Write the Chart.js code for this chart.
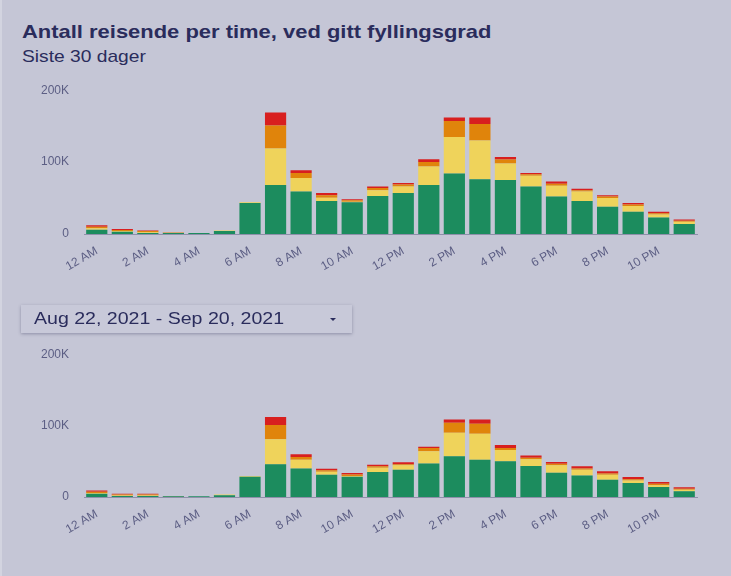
<!DOCTYPE html>
<html>
<head>
<meta charset="utf-8">
<script src="https://cdn.jsdelivr.net/npm/chart.js@4.4.0/dist/chart.umd.min.js"></script>
<style>
  html, body { margin:0; padding:0; }
  body { width:731px; height:576px; background:#c5c6d6; position:relative; overflow:hidden;
         font-family:"Liberation Sans", Arial, sans-serif; border-left:2px solid #d3d4e0; box-sizing:border-box; }
  .title { position:absolute; left:20px; top:21px; font-size:19px; font-weight:bold; color:#2a2c5c;
           transform:scaleX(1.155); transform-origin:0 0; white-space:nowrap; }
  .sub { position:absolute; left:20px; top:47px; font-size:17px; color:#2a2c5c;
         transform:scaleX(1.13); transform-origin:0 0; white-space:nowrap; }
  .box { position:absolute; left:0; width:731px; }
  #wrap1 { top:68px; height:210px; }
  #wrap2 { top:332px; height:209px; }
  .dd { position:absolute; left:19px; top:305px; width:331px; height:28px; background:#c8c9d9;
        box-shadow:0 1px 3px rgba(40,40,80,0.35); z-index:2; }
  .dd span { position:absolute; left:13px; top:4px; font-size:17px; color:#2a2c5c;
             transform:scaleX(1.15); transform-origin:0 0; white-space:nowrap; }
  .dd i { position:absolute; right:16px; top:13px; width:0; height:0; border-left:3px solid transparent;
          border-right:3px solid transparent; border-top:3px solid #2a2c5c; }
</style>
</head>
<body>
<div class="title">Antall reisende per time, ved gitt fyllingsgrad</div>
<div class="sub">Siste 30 dager</div>
<div class="box" id="wrap1"><canvas id="c1"></canvas></div>
<div class="dd"><span>Aug 22, 2021 - Sep 20, 2021</span><i></i></div>
<div class="box" id="wrap2"><canvas id="c2"></canvas></div>
<script>
const hours = ['12 AM','1 AM','2 AM','3 AM','4 AM','5 AM','6 AM','7 AM','8 AM','9 AM','10 AM','11 AM',
               '12 PM','1 PM','2 PM','3 PM','4 PM','5 PM','6 PM','7 PM','8 PM','9 PM','10 PM','11 PM'];
const yTicks = [0, 100, 200]; // thousands

// Siste 30 dager (thousands of travellers)
const green1  = [6, 3, 1.5, 1.5, 1.5, 4, 43, 68, 59, 46, 44, 53, 57, 68, 84, 76, 75, 66, 52, 46, 38, 31, 23, 14];
const yellow1 = [2, 1, 1, 0.3, 0, 1, 1, 51, 19, 4.5, 1, 8, 9, 26, 51, 54, 23, 15, 15, 13, 12, 8, 4, 3];
const orange1 = [2, 1.5, 1.5, 0.3, 0, 0, 0, 32, 7, 3.5, 2, 3, 3, 6, 22, 23, 5.5, 2, 3, 2, 2, 2, 2, 1.5];
const red1    = [2, 1.5, 1, 0.2, 0, 0, 0, 18, 3.5, 3, 1.5, 2, 2, 4, 5, 9, 3.5, 2, 3, 2, 2, 2, 2, 1.5];

// Aug 22, 2021 - Sep 20, 2021
const green2  = [4.5, 1.5, 1.5, 1, 1, 2.5, 28.5, 46, 40, 31, 28.5, 35, 38, 47, 57, 52, 50, 43.5, 34, 30, 24, 19.5, 14, 8];
const yellow2 = [1, 0.5, 0.5, 0.2, 0, 1, 1, 35, 12, 4.5, 1, 6, 6.5, 17, 33, 36.5, 16, 9.5, 10.5, 8, 7, 3.5, 2.5, 2];
const orange2 = [2, 1.5, 1.5, 0.3, 0, 0, 0, 20, 4, 2, 2, 2, 1.5, 4.5, 14, 14, 2.7, 2, 2, 2, 2, 2, 2, 1.5];
const red2    = [1.5, 1, 1, 0, 0, 0, 0, 11, 4, 2, 2, 2, 2.5, 2, 4.5, 6, 4, 3, 2.5, 3, 3, 3, 2.5, 2];

const colors = { green:'#1c8c5e', yellow:'#efd35b', orange:'#e0840b', red:'#d81f1f' };
const tickColor = '#5c5e84';
const tickFont = { family:'"Liberation Sans", Arial', size:12 };

function ds(label, data, color){
  return { label, data, backgroundColor: color, borderWidth:0, barPercentage:0.83, categoryPercentage:1 };
}

function makeChart(id, g, y, o, r){
  return new Chart(document.getElementById(id), {
    type:'bar',
    data:{ labels:hours, datasets:[
      ds('0-25%', g, colors.green), ds('25-50%', y, colors.yellow),
      ds('50-75%', o, colors.orange), ds('75-100%', r, colors.red)
    ]},
    options:{
      responsive:true, maintainAspectRatio:false, animation:false,
      layout:{ padding:{ top:8, right:36, left:0, bottom:0 } },
      plugins:{ legend:{ display:false }, tooltip:{ enabled:false } },
      scales:{
        x:{ stacked:true, grid:{ display:false, drawTicks:false },
            border:{ display:true, color:'#8e90aa', width:1 },
            afterFit:s=>{ s.height = 44; },
            ticks:{ color:tickColor, font:tickFont,
                    minRotation:30, maxRotation:30, autoSkip:false, padding:10,
                    callback:(v,i)=> i%2 ? '' : hours[i] } },
        y:{ stacked:true, min:0, max:200, grid:{ display:false, drawTicks:false },
            border:{ display:false },
            afterBuildTicks:s=>{ s.ticks = yTicks.map(v=>({value:v})); },
            afterFit:s=>{ s.width = 82; },
            ticks:{ color:tickColor, font:tickFont, padding:15,
                    callback:v=> v ? v+'K' : '0' } }
      }
    }
  });
}

makeChart('c1', green1, yellow1, orange1, red1);
makeChart('c2', green2, yellow2, orange2, red2);
</script>
</body>
</html>
